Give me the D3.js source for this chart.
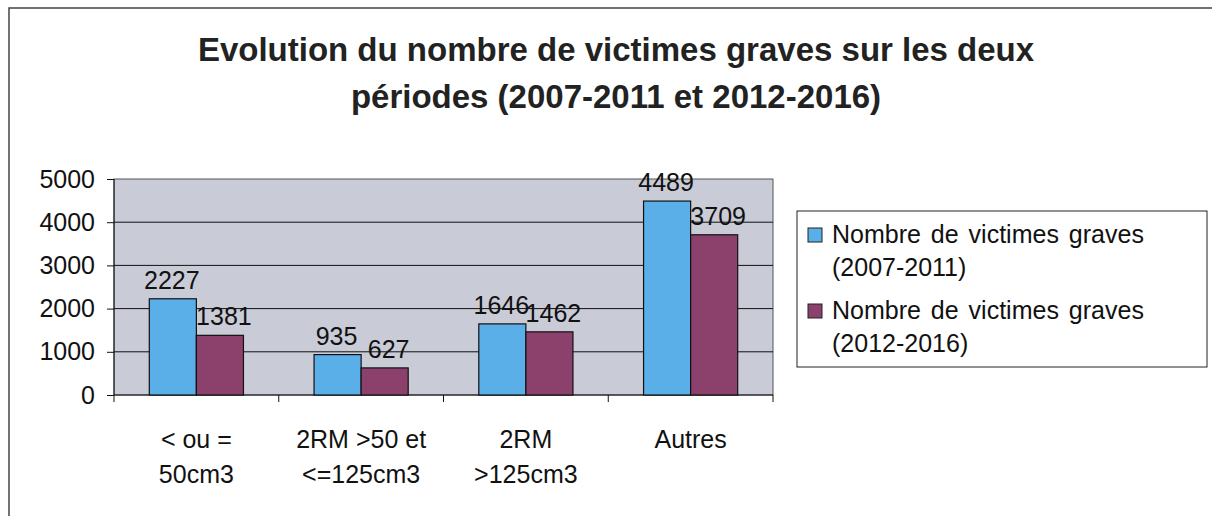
<!DOCTYPE html>
<html><head><meta charset="utf-8">
<script src="https://cdn.jsdelivr.net/npm/d3@7/dist/d3.min.js"></script>
<style>body{margin:0;background:#fff;}svg{display:block;font-family:"Liberation Sans",Arial,sans-serif;}</style>
</head><body><svg id="c" width="1212" height="516"></svg>
<script>
const categories = [["< ou =","50cm3"],["2RM >50 et","<=125cm3"],["2RM",">125cm3"],["Autres"]];
const series1 = [2227, 935, 1646, 4489];
const series2 = [1381, 627, 1462, 3709];
const seriesNames = [["Nombre de victimes graves","(2007-2011)"],["Nombre de victimes graves","(2012-2016)"]];
const yTicks = [0, 1000, 2000, 3000, 4000, 5000];
const titleLines = ["Evolution du nombre de victimes graves sur les deux","périodes (2007-2011 et 2012-2016)"];
const colors = ["#5aafe8", "#8c416c"];

const svg = d3.select("#c");
// outer frame
svg.append("rect").attr("x",9).attr("y",8).attr("width",1220).attr("height",520)
  .attr("fill","none").attr("stroke","#444").attr("stroke-width",1.5);

const m = {l:114, r:773, t:179, b:395};
const x0 = d3.scaleBand().domain(d3.range(categories.length)).range([m.l, m.r]).padding(0);
const x1 = d3.scaleBand().domain([0,1]).range([0, x0.bandwidth()]).paddingOuter(0.75).paddingInner(0);
const y = d3.scaleLinear().domain([0, 5000]).range([m.b, m.t]);

svg.append("rect").attr("x",m.l).attr("y",m.t).attr("width",m.r-m.l).attr("height",m.b-m.t)
  .attr("fill","#c9cbd6").attr("stroke","#555").attr("stroke-width",1);

// gridlines
svg.append("g").selectAll("line").data(yTicks.slice(1,-1)).join("line")
  .attr("x1",m.l).attr("x2",m.r).attr("y1",d=>y(d)).attr("y2",d=>y(d))
  .attr("stroke","#111").attr("stroke-width",1);

// y axis
const ya = svg.append("g").attr("transform",`translate(${m.l},0)`)
  .call(d3.axisLeft(y).tickValues(yTicks).tickSize(7).tickPadding(12).tickFormat(d3.format("d")));
ya.select(".domain").attr("stroke","#111").attr("d",`M0,${m.t}V${m.b}`);
ya.selectAll(".tick line").attr("stroke","#111");
ya.selectAll(".tick text").attr("font-size",25).attr("fill","#111").attr("font-family","Liberation Sans, Arial");

// x axis
const xa = svg.append("g").attr("transform",`translate(0,${m.b})`);
xa.append("line").attr("x1",m.l).attr("x2",m.r).attr("stroke","#111");
xa.selectAll("line.t").data(d3.range(categories.length+1)).join("line").attr("class","t")
  .attr("x1",d=> d<categories.length ? x0(d) : m.r).attr("x2",d=> d<categories.length ? x0(d) : m.r)
  .attr("y1",0).attr("y2",7).attr("stroke","#111");
const cl = svg.append("g");
categories.forEach((lines,i)=>{
  const t = cl.append("text").attr("x", x0(i)+x0.bandwidth()/2).attr("y", 448)
    .attr("text-anchor","middle").attr("font-size",25).attr("fill","#111");
  lines.forEach((s,j)=> t.append("tspan").attr("x", x0(i)+x0.bandwidth()/2).attr("dy", j?35:0).text(s));
});

// bars
const allSeries = [series1, series2];
allSeries.forEach((vals,si)=>{
  svg.append("g").selectAll("rect").data(vals).join("rect")
    .attr("x",(d,i)=>x0(i)+x1(si)).attr("width",x1.bandwidth())
    .attr("y",d=>y(d)).attr("height",d=>m.b-y(d))
    .attr("fill",colors[si]).attr("stroke","#111").attr("stroke-width",1.2);
  svg.append("g").selectAll("text").data(vals).join("text")
    .attr("x",(d,i)=>x0(i)+x1(si)+x1.bandwidth()/2 + (si?4:-1)).attr("y",d=>y(d)-10)
    .attr("text-anchor","middle").attr("font-size",25).attr("fill","#111").text(d=>d);
});

// title
const tt = svg.append("text").attr("text-anchor","middle").attr("font-size",33).attr("font-weight","bold").attr("fill","#222");
titleLines.forEach((s,j)=> tt.append("tspan").attr("x",616).attr("y",61+47*j).text(s));

// legend
const lg = svg.append("g");
lg.append("rect").attr("x",797).attr("y",211).attr("width",410).attr("height",156)
  .attr("fill","#fff").attr("stroke","#222").attr("stroke-width",1);
seriesNames.forEach((lines,i)=>{
  const by = 243 + i*76;
  lg.append("rect").attr("x",808).attr("y",by-15).attr("width",14).attr("height",14)
    .attr("fill",colors[i]).attr("stroke","#222").attr("stroke-width",1);
  const t = lg.append("text").attr("font-size",25).attr("fill","#111").attr("word-spacing",3);
  lines.forEach((s,j)=> t.append("tspan").attr("x",832).attr("y",by+j*33).text(s));
});
</script></body></html>
